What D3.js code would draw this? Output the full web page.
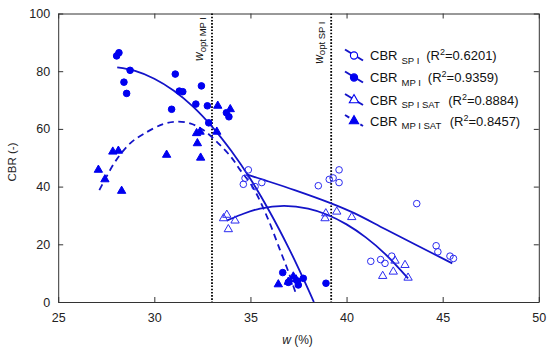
<!DOCTYPE html>
<html>
<head>
<meta charset="utf-8">
<script src="https://cdn.jsdelivr.net/npm/d3@7"></script>
<style>
  html, body { margin: 0; padding: 0; background: #fff; }
  svg { display: block; font-family: "Liberation Sans", Arial, sans-serif; }
</style>
</head>
<body>
<svg id="chart" width="550" height="350"></svg>
<script>
// ---------------- DATA ----------------
const xTicks = [25, 30, 35, 40, 45, 50];
const yTicks = [0, 20, 40, 60, 80, 100];

// CBR SP I (open circles)
const spI = [
  [34.63, 40.8], [34.72, 42.9], [34.89, 45.8], [35.24, 40.0], [35.59, 41.4],
  [38.53, 40.3], [39.10, 42.5], [39.30, 43.0], [39.61, 45.8], [39.61, 41.4],
  [43.65, 34.1], [41.26, 14.1], [41.77, 14.7], [42.00, 13.4], [42.35, 15.9],
  [44.66, 19.5], [44.75, 17.4], [45.38, 15.9], [45.56, 15.1]
];
// CBR MP I (filled circles)
const mpI = [
  [28.04, 85.3], [28.16, 86.4], [28.74, 80.3], [28.42, 76.2], [28.56, 72.3],
  [31.09, 79.0], [31.30, 73.1], [31.48, 72.9], [30.90, 66.8], [32.16, 68.6],
  [32.45, 74.9], [32.76, 68.0], [32.83, 62.1], [33.75, 65.6], [33.88, 64.2],
  [36.68, 10.2], [36.97, 6.8], [37.44, 7.3], [37.49, 5.9], [37.75, 8.2], [38.93, 6.5]
];
// CBR SP I SAT (open triangles)
const spISat = [
  [33.60, 29.0], [33.77, 30.2], [34.20, 28.2], [33.85, 25.2],
  [38.88, 29.0], [38.92, 30.7], [39.49, 31.3], [40.27, 29.4],
  [41.88, 9.0], [42.43, 10.5], [42.52, 14.3], [43.04, 12.8], [43.20, 8.4]
];
// CBR MP I SAT (filled triangles)
const mpISat = [
  [27.09, 45.8], [27.43, 42.5], [27.84, 52.1], [28.13, 52.4], [28.30, 38.5],
  [30.64, 51.0], [32.20, 58.5], [32.38, 59.0], [32.24, 55.0], [32.41, 50.0],
  [33.25, 59.0], [33.30, 68.0], [33.95, 66.8],
  [36.45, 6.1], [36.97, 7.0], [37.23, 8.8], [37.37, 7.8]
];

// Trend curves
const fitSpI = [[34.8, 44.2], [35.7, 42.3], [37.3, 38.8], [39.2, 34.2], [40.4, 30.8], [42.0, 25.3], [43.7, 19.5], [45.5, 13.4]];
const fitMpI = [[28.07, 81.3], [29, 80.1], [30, 77.4], [31, 73.3], [32, 67.8], [33, 60.8], [34, 52.4], [35, 42.6], [36, 31.3], [37, 18.6], [38, 4.5], [38.3, 0]];
const fitSpISat = [[33.77, 28.2], [34.5, 30.25], [35.5, 32.4], [36.75, 33.3], [38, 32.4], [39, 30.25], [40, 26.9], [41, 22.4], [42, 16.7], [43.2, 8.2]];
const fitMpISat = [[27.14, 38.8], [27.5, 43.3], [28, 49], [28.74, 55], [29.43, 58.2], [30.47, 61.7], [31.16, 62.5], [31.86, 61.9], [32.55, 59.6], [33.33, 55], [34.0, 50.2], [34.46, 45.8], [35.15, 39.5], [35.9, 29], [36.54, 18], [37.0, 10], [37.39, 2.4]];

const wOptValues = [33.0, 39.2];
const wOptLabels = ["opt MP I", "opt SP I"];

const legendSubs = ["SP I", "MP I", "SP I SAT", "MP I SAT"];
const legendR2 = ["0.6201", "0.9359", "0.8884", "0.8457"];

// ---------------- CHART ----------------
const svg = d3.select("#chart");
const blue = "#0000f0";
const lineBlue = "#1414c8";

const x = d3.scaleLinear().domain([25, 50]).range([58.2, 538.8]);
const y = d3.scaleLinear().domain([0, 100]).range([302, 13.5]);

svg.append("rect").attr("width", 550).attr("height", 350).attr("fill", "#fff");

svg.append("defs").append("clipPath").attr("id", "plotclip")
  .append("rect").attr("x", x(25)).attr("y", y(100)).attr("width", x(50) - x(25)).attr("height", y(0) - y(100));

// Axes
function styleAxis(g) {
  g.selectAll("path, line").attr("stroke", "#333").attr("stroke-width", 1);
  g.selectAll("text").attr("fill", "#222").style("font-size", "12.5px")
    .style("font-family", "'Liberation Sans', Arial, sans-serif");
}
svg.append("g").attr("transform", `translate(0,${y(0)})`)
  .call(d3.axisBottom(x).tickValues(xTicks).tickSizeInner(-5).tickSizeOuter(0).tickPadding(11.5))
  .call(styleAxis);
svg.append("g").attr("transform", `translate(0,${y(100)})`)
  .call(d3.axisTop(x).tickValues(xTicks).tickSizeInner(-5).tickSizeOuter(0).tickFormat(""))
  .call(styleAxis);
svg.append("g").attr("transform", `translate(${x(25)},0)`)
  .call(d3.axisLeft(y).tickValues(yTicks).tickSizeInner(-5).tickSizeOuter(0).tickPadding(8))
  .call(styleAxis);
svg.append("g").attr("transform", `translate(${x(50)},0)`)
  .call(d3.axisRight(y).tickValues(yTicks).tickSizeInner(-5).tickSizeOuter(0).tickFormat(""))
  .call(styleAxis);

// Axis titles
svg.append("text").attr("transform", `translate(16,162) rotate(-90)`)
  .attr("text-anchor", "middle").style("font-size", "11.5px").attr("fill", "#222").text("CBR (-)");
const xt = svg.append("text").attr("x", 297.5).attr("y", 344).attr("text-anchor", "middle")
  .style("font-size", "12px").attr("fill", "#222");
xt.append("tspan").style("font-style", "italic").text("w");
xt.append("tspan").text(" (%)");

// Vertical optimum lines
wOptValues.forEach((w, i) => {
  svg.append("line").attr("x1", x(w)).attr("x2", x(w)).attr("y1", y(100)).attr("y2", y(0))
    .attr("stroke", "#000").attr("stroke-width", 1.8).attr("stroke-dasharray", "1.6,1.6");
  const t = svg.append("text")
    .attr("transform", `translate(${x(w) - 8.5},${i === 0 ? 17 : 21.5}) rotate(-90)`)
    .attr("text-anchor", "end").attr("fill", "#111").style("font-size", "12px");
  t.append("tspan").style("font-style", "italic").text("w");
  t.append("tspan").style("font-size", "9.5px").attr("dy", 2.5).text(wOptLabels[i]);
});

const plot = svg.append("g").attr("clip-path", "url(#plotclip)");
const line = d3.line().x(d => x(d[0])).y(d => y(d[1])).curve(d3.curveCatmullRom);

// Fit curves
[[fitSpI, null], [fitMpI, null], [fitSpISat, null], [fitMpISat, "6.5,4.5"]].forEach(([pts, dash]) => {
  plot.append("path").datum(pts).attr("d", line)
    .attr("fill", "none").attr("stroke", lineBlue).attr("stroke-width", 1.8)
    .attr("stroke-dasharray", dash);
});

// Markers
const triSym = d3.symbol().type(d3.symbolTriangle).size(30);
function drawCircles(data, filled) {
  plot.append("g").selectAll("circle").data(data).join("circle")
    .attr("cx", d => x(d[0])).attr("cy", d => y(d[1])).attr("r", 3.3)
    .attr("fill", filled ? blue : "none").attr("stroke", filled ? blue : "#2a2af0").attr("stroke-width", 1);
}
function drawTris(data, filled) {
  plot.append("g").selectAll("path").data(data).join("path")
    .attr("d", triSym).attr("transform", d => `translate(${x(d[0])},${y(d[1])})`)
    .attr("fill", filled ? blue : "none").attr("stroke", filled ? blue : "#2a2af0").attr("stroke-width", 1);
}
drawCircles(spI, false);
drawCircles(mpI, true);
drawTris(spISat, false);
drawTris(mpISat, true);

// Legend
const legY = [55.5, 77.5, 100, 121];
const lg = svg.append("g");
legendSubs.forEach((sub, i) => {
  const cy = legY[i];
  lg.append("line").attr("x1", 345).attr("y1", cy - 6).attr("x2", 363).attr("y2", cy + 5)
    .attr("stroke", lineBlue).attr("stroke-width", 2).attr("stroke-dasharray", i === 3 ? "5,4" : null);
  if (i < 2) {
    lg.append("circle").attr("cx", 354).attr("cy", cy).attr("r", 3.6)
      .attr("fill", i === 1 ? blue : "#fff").attr("stroke", blue).attr("stroke-width", 1.1);
  } else {
    lg.append("path").attr("d", d3.symbol().type(d3.symbolTriangle).size(38))
      .attr("transform", `translate(354,${cy})`)
      .attr("fill", i === 3 ? blue : "#fff").attr("stroke", blue).attr("stroke-width", 1.1);
  }
  const t = lg.append("text").attr("x", 370).attr("y", cy + 4.5).attr("fill", "#111").style("font-size", "13px");
  t.append("tspan").text("CBR");
  t.append("tspan").attr("x", 401.5).attr("dy", 3.5).style("font-size", "9.5px").text(sub);
  t.append("tspan").attr("dy", -3.5).attr("dx", i < 2 ? 7 : 8.5).text("(R");
  t.append("tspan").attr("dy", -5).style("font-size", "9px").text("2");
  t.append("tspan").attr("dy", 5).text("=" + legendR2[i] + ")");
});
</script>
</body>
</html>
